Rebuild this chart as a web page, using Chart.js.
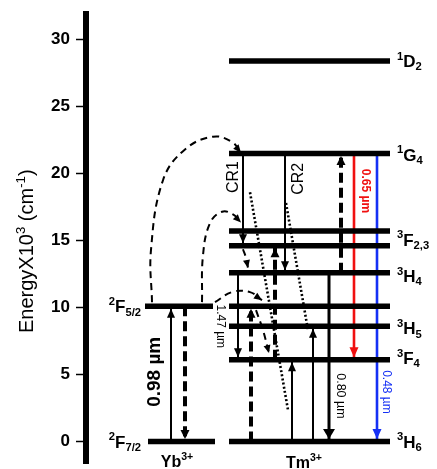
<!DOCTYPE html>
<html lang="en">
<head>
<meta charset="UTF-8">
<title>Yb3+ / Tm3+ energy levels</title>
<script src="https://cdn.jsdelivr.net/npm/chart.js"></script>
<style>
  html, body { margin: 0; padding: 0; background: #fff; }
  #wrap { width: 437px; height: 469px; }
</style>
</head>
<body>
<div id="wrap"><canvas id="levels"></canvas></div>
<script>
// energies, 10^3 cm^-1
const yTicks = [0, 5, 10, 15, 20, 25, 30];
const ybLevels = [0, 10.1];                                          // 2F7/2, 2F5/2
const tmLevels = [0, 6.1, 8.6, 10.1, 12.6, 14.6, 15.7, 21.5, 28.4];  // 3H6 .. 1D2

// vertical transitions: start / end energy
const transFrom = [0, 10.1, 21.5, 21.5, 12.6, 12.6, 21.5, 21.5, 12.6, 6.1, 0, 0, 0];
const transTo   = [10.1, 0, 14.6, 12.6, 6.1, 0, 6.1, 0, 21.5, 14.6, 10.1, 6.1, 8.6];

// dotted cross-relaxation partners
const dotFrom = [18.6, 17.8];
const dotTo   = [2.35, 8.3];

// ---- layout (x in px of the 437 wide page, y in energy) ----
const ybSpan = [[148, 215], [145, 213]];
const tmSpan = [229, 390];
const transX = [171, 185, 243, 285, 238, 329, 354, 377, 341, 275, 251, 292, 313];
const transKind = ['solid', 'dash', 'solid', 'solid', 'solid', 'bold', 'red', 'blue',
                   'dash', 'dash', 'dash', 'solid', 'solid'];
const dotX = [[250, 288], [286, 308]];
const curves = [
  [[152, 10.4], [151, 14.3], [163, 19.5], [185, 21.8], [213, 22.75], [232, 22.35], [241, 21.55]],
  [[202, 10.4], [203, 13.9], [210, 16.3], [222, 17.15], [233, 16.95], [241, 16.35]],
  [[215, 10.4], [232, 11.15], [250, 11.15], [262, 10.55]],
  [[256, 9.8], [263, 8.3], [269, 6.6]],
  [[243, 14.35], [246, 13.7], [248, 12.95]]
];

const RED = '#f01010', BLUE = '#1530f5';
const kinds = {
  solid: { w: 2,   dash: [],      color: '#000', hw: 8,  hl: 9 },
  dash:  { w: 4,   dash: [10, 5], color: '#000', hw: 9,  hl: 9 },
  bold:  { w: 3,   dash: [],      color: '#000', hw: 12, hl: 10 },
  red:   { w: 2.6, dash: [],      color: RED,    hw: 9,  hl: 10 },
  blue:  { w: 2.6, dash: [],      color: BLUE,   hw: 9,  hl: 10 }
};

const FONT = '"Liberation Sans", Arial, sans-serif';

const datasets = [];
// levels first so they are painted on top
ybLevels.forEach((e, i) => datasets.push({
  data: [{ x: ybSpan[i][0], y: e }, { x: ybSpan[i][1], y: e }],
  borderColor: '#000', borderWidth: 5.5
}));
tmLevels.forEach(e => datasets.push({
  data: [{ x: tmSpan[0], y: e }, { x: tmSpan[1], y: e }],
  borderColor: '#000', borderWidth: 5.5
}));
transFrom.forEach((f, i) => {
  const k = kinds[transKind[i]];
  datasets.push({
    data: [{ x: transX[i], y: f }, { x: transX[i], y: transTo[i] }],
    borderColor: k.color, borderWidth: k.w, borderDash: k.dash
  });
});
dotFrom.forEach((f, i) => datasets.push({
  data: [{ x: dotX[i][0], y: f }, { x: dotX[i][1], y: dotTo[i] }],
  borderColor: '#000', borderWidth: 2.6, borderDash: [2, 2.2]
}));
curves.forEach(c => datasets.push({
  data: c.map(p => ({ x: p[0], y: p[1] })),
  borderColor: '#000', borderWidth: 2, borderDash: [7, 5], tension: 0.4
}));
datasets.forEach(d => { d.showLine = true; d.pointRadius = 0; d.fill = false; });

function head(ctx, tx, ty, dx, dy, w, l, color) {
  const n = Math.hypot(dx, dy); dx /= n; dy /= n;
  const bx = tx - dx * l, by = ty - dy * l;
  ctx.beginPath();
  ctx.moveTo(tx, ty);
  ctx.lineTo(bx - dy * w / 2, by + dx * w / 2);
  ctx.lineTo(bx + dy * w / 2, by - dx * w / 2);
  ctx.closePath();
  ctx.fillStyle = color;
  ctx.fill();
}

// segs: [text, mode] mode 1 = superscript, -1 = subscript
function drawRich(ctx, segs, x, y, size, weight, color, align) {
  const small = size * 0.66;
  const font = s => `${weight} ${s}px ${FONT}`;
  let w = 0;
  segs.forEach(([t, m]) => { ctx.font = font(m ? small : size); w += ctx.measureText(t).width; });
  let cx = align === 'center' ? x - w / 2 : align === 'right' ? x - w : x;
  ctx.fillStyle = color;
  ctx.textAlign = 'left';
  ctx.textBaseline = 'alphabetic';
  const base = y + size * 0.36;
  segs.forEach(([t, m]) => {
    ctx.font = font(m ? small : size);
    const dy = m === 1 ? -size * 0.42 : m === -1 ? size * 0.2 : 0;
    ctx.fillText(t, cx, base + dy);
    cx += ctx.measureText(t).width;
  });
}

const term = (sup, main, sub) => [[sup, 1], [main, 0], [sub, -1]];

// level labels: [energy, px offset, segments]
const tmTags = [
  [28.4, 0, term('1', 'D', '2')],
  [21.5, 1, term('1', 'G', '4')],
  [15.15, 1, term('3', 'F', '2,3')],
  [12.6, 3, term('3', 'H', '4')],
  [8.6, 2, term('3', 'H', '5')],
  [6.1, -2, term('3', 'F', '4')],
  [0, 0, term('3', 'H', '6')]
];
const ybTags = [
  [10.1, term('2', 'F', '5/2')],
  [0, term('2', 'F', '7/2')]
];
// rotated transition labels: [text, x, energy, angle, size, weight, color]
const notes = [
  ['CR1', 234, 19.74, -90, 16, 'normal', '#000'],
  ['CR2', 299, 19.6, -90, 16, 'normal', '#000'],
  ['0.65 \u00b5m', 365, 18.7, 90, 12, 'bold', RED],
  ['0.80 \u00b5m', 340, 3.4, 90, 12.5, 'normal', '#000'],
  ['0.48 \u00b5m', 386, 3.7, 90, 12, 'normal', BLUE],
  ['1.47 \u00b5m', 220, 8.6, 90, 12, 'normal', '#000'],
  ['0.98 \u00b5m', 155, 5.2, -90, 19, 'bold', '#000']
];

const overlay = {
  id: 'overlay',
  afterDatasetsDraw(chart) {
    const { ctx, scales: { x, y } } = chart;
    ctx.save();
    // arrowheads on vertical transitions
    transFrom.forEach((f, i) => {
      const k = kinds[transKind[i]];
      const px = x.getPixelForValue(transX[i]);
      const p1 = y.getPixelForValue(f), p2 = y.getPixelForValue(transTo[i]);
      const dir = Math.sign(p2 - p1);
      head(ctx, px, p2 - dir * 2.5, 0, dir, k.hw, k.hl, k.color);
    });
    // arrowheads on dashed curves
    curves.forEach(c => {
      const a = c[c.length - 2], b = c[c.length - 1];
      const bx = x.getPixelForValue(b[0]), by = y.getPixelForValue(b[1]);
      const ax = x.getPixelForValue(a[0]), ay = y.getPixelForValue(a[1]);
      head(ctx, bx, by, bx - ax, by - ay, 7, 8, '#000');
    });
    // level names
    tmTags.forEach(([e, off, segs]) =>
      drawRich(ctx, segs, 397, y.getPixelForValue(e) + off, 17, 'bold', '#000', 'left'));
    ybTags.forEach(([e, segs]) =>
      drawRich(ctx, segs, 141, y.getPixelForValue(e), 17, 'bold', '#000', 'right'));
    drawRich(ctx, [['Yb', 0], ['3+', 1]], 177, y.getPixelForValue(-1.46), 16, 'bold', '#000', 'center');
    drawRich(ctx, [['Tm', 0], ['3+', 1]], 304, y.getPixelForValue(-1.53), 16, 'bold', '#000', 'center');
    // rotated labels
    notes.forEach(([t, nx, e, ang, size, weight, color]) => {
      ctx.save();
      ctx.translate(x.getPixelForValue(nx), y.getPixelForValue(e));
      ctx.rotate(ang * Math.PI / 180);
      ctx.font = `${weight} ${size}px ${FONT}`;
      ctx.fillStyle = color;
      ctx.textAlign = 'center';
      ctx.textBaseline = 'middle';
      ctx.fillText(t, 0, 0);
      ctx.restore();
    });
    // axis title
    ctx.save();
    ctx.translate(26, y.getPixelForValue(14.2));
    ctx.rotate(-Math.PI / 2);
    drawRich(ctx, [['EnergyX10', 0], ['3', 1], [' (cm', 0], ['-1', 1], [')', 0]],
      0, 0, 20, 'normal', '#000', 'center');
    ctx.restore();
    ctx.restore();
  }
};

new Chart(document.getElementById('levels'), {
  type: 'scatter',
  data: { datasets },
  options: {
    responsive: true,
    maintainAspectRatio: false,
    animation: false,
    events: [],
    layout: { padding: { top: 14, bottom: 6, left: 0, right: 0 } },
    plugins: { legend: { display: false }, tooltip: { enabled: false } },
    scales: {
      x: { type: 'linear', min: 86, max: 437, display: false },
      y: {
        type: 'linear',
        min: -1.604, max: 31.903,
        afterBuildTicks: s => { s.ticks = yTicks.map(v => ({ value: v })); },
        afterFit: s => { s.width = 86; s.paddingTop = 0; s.paddingBottom = 0; },
        border: { display: true, width: 6, color: '#000' },
        grid: { drawOnChartArea: false, drawTicks: true, tickLength: 10, tickWidth: 1.5, tickColor: '#000' },
        ticks: { color: '#000', padding: 6, font: { family: FONT, size: 17, weight: 'bold' } }
      }
    }
  },
  plugins: [overlay]
});
</script>
</body>
</html>
